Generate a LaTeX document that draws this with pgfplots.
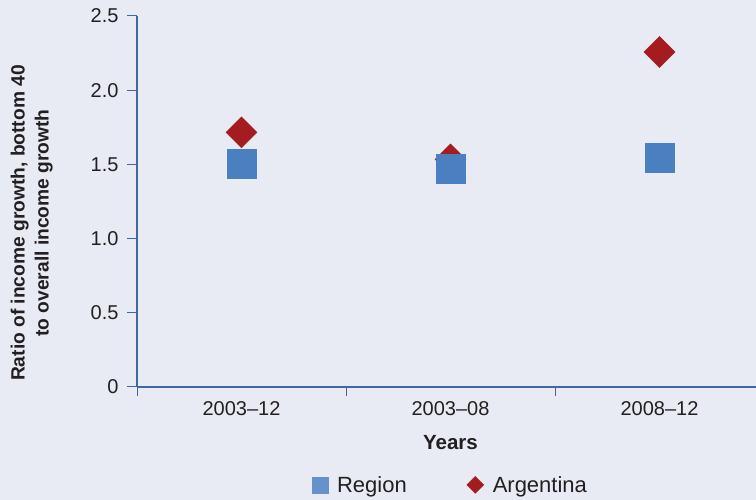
\documentclass[border=0pt]{standalone}
\usepackage{fontspec}
\setmainfont{Liberation Sans}
\usepackage{pgfplots}
\pgfplotsset{compat=1.18}
\definecolor{bgblue}{HTML}{E8EBF3}
\definecolor{axisblue}{HTML}{41689C}
\definecolor{regionblue}{HTML}{4A80C0}
\definecolor{argred}{HTML}{A51C20}
\definecolor{txt}{HTML}{231F20}
\newcommand{\fs}{\fontsize{20}{24}\selectfont}

\begin{document}
\begin{tikzpicture}[x=1pt,y=1pt]
\fill[bgblue] (0,0) rectangle (756,500);
\clip (0,0) rectangle (756,500);
\begin{axis}[
  at={(137pt,113pt)}, anchor=south west,
  scale only axis, width=627pt, height=371pt,
  xmin=-0.5, xmax=2.5, ymin=0, ymax=2.5,
  axis x line=bottom, axis y line=left,
  axis line style={axisblue, line width=1.3pt, -},
  tick align=outside,
  major tick length=10pt, minor tick length=9pt,
  ytick={0,0.5,1,1.5,2,2.5},
  yticklabels={0,0.5,1.0,1.5,2.0,2.5},
  xtick={0,1,2},
  xticklabels={2003--12,2003--08,2008--12},
  major x tick style={draw=none},
  minor xtick={-0.5,0.5,1.5,2.5},
  minor x tick style={axisblue, line width=1pt},
  major y tick style={axisblue, line width=1pt},
  tick label style={font=\fs, text=txt},
  /pgf/number format/assume math mode=true,
  xticklabel style={anchor=base, yshift=-19pt},
  yticklabel style={xshift=-5pt},
  xlabel={Years},
  xlabel style={at={(axis description cs:0.5,-0.151)}, anchor=center,
    font=\bfseries\fontsize{20.5}{24}\selectfont, text=txt},
  ylabel={Ratio of income growth, bottom 40\\to overall income growth},
  ylabel style={at={(axis description cs:-0.168,0.442)}, anchor=center, align=center,
    font=\bfseries\fontsize{19.2}{24}\selectfont, text=txt},
  legend columns=2,
  legend style={at={(axis description cs:0.5,-0.264)}, anchor=center, draw=none, fill=none,
    font=\fontsize{22}{26}\selectfont, text=txt,
    /tikz/every odd column/.append style={column sep=7pt},
    /tikz/every even column/.append style={column sep=58pt}},
  clip=false,
]
% Argentina first (drawn behind Region)
\addplot[forget plot, only marks, mark=square*, mark size=11pt,
  mark options={rotate=45, fill=argred, draw=argred}]
  coordinates {(0,1.716)(1,1.534)(2,2.257)};
\addplot[forget plot, only marks, mark=square*, mark size=14.5pt,
  mark options={fill=regionblue, draw=regionblue}]
  coordinates {(0,1.506)(1,1.474)(2,1.543)};
\addlegendimage{only marks, mark=square*, mark size=8pt, mark options={fill=regionblue!85!white, draw=regionblue!85!white}}
\addlegendentry{Region}
\addlegendimage{only marks, mark=square*, mark size=6pt, mark options={rotate=45, fill=argred, draw=argred}}
\addlegendentry{Argentina}
\end{axis}
\end{tikzpicture}
\end{document}
